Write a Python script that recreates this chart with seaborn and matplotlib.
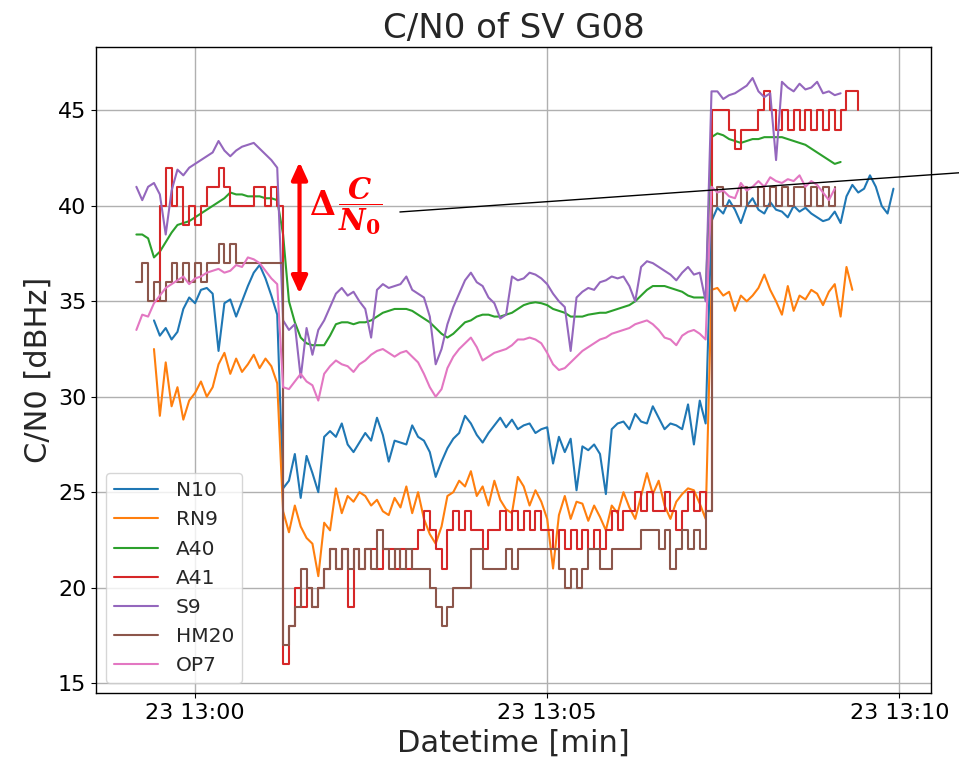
import pandas as pd
import matplotlib.pyplot as plt
import matplotlib.dates as mdates
from matplotlib.lines import Line2D
import seaborn as sns

# C/N0 samples (dBHz), every 5 s; each receiver has three pieces:
# before the drop (ends 13:01:10), during it (from 13:01:15), after the jump (from 13:07:20)
names = ["N10", "RN9", "A40", "A41", "S9", "HM20", "OP7"]
stepped = ["A41", "HM20"]  # these report whole dB values

n10_a = [34.0, 33.2, 33.6, 33.0, 33.4, 34.6, 35.2, 34.9, 35.6, 35.7, 35.4, 32.4, 34.9, 35.1,
         34.2, 35.0, 35.8, 36.5, 36.9, 36.2, 35.3, 34.3]
n10_b = [25.2, 25.6, 27.0, 24.7, 26.9, 26.0, 25.0, 27.9, 28.2, 27.9, 28.6, 27.5, 27.1, 27.6,
         28.1, 27.7, 28.9, 28.0, 26.6, 27.7, 27.6, 27.5, 28.5, 27.9, 27.7, 27.1, 25.8, 26.6,
         27.3, 27.8, 28.1, 29.0, 28.6, 28.0, 27.6, 28.1, 28.5, 28.9, 28.4, 28.8, 28.3, 28.5,
         28.6, 28.1, 28.3, 28.4, 26.5, 27.9, 27.1, 27.8, 25.1, 27.4, 27.2, 27.5, 27.0, 24.9,
         28.3, 28.6, 28.7, 28.3, 29.1, 28.7, 28.6, 29.5, 28.9, 28.3, 28.6, 28.5, 28.3, 29.6,
         27.5, 29.8, 28.6]
n10_c = [39.2, 39.9, 39.6, 40.3, 39.8, 39.1, 40.0, 40.4, 39.8, 39.6, 40.2, 39.8, 39.7, 39.4,
         40.0, 39.7, 39.9, 39.6, 39.4, 39.2, 39.3, 39.7, 39.1, 40.5, 41.1, 40.7, 40.9, 41.6,
         41.0, 40.0, 39.6, 40.9]

rn9_a = [32.5, 29.0, 31.8, 29.5, 30.5, 28.8, 29.8, 30.2, 30.8, 30.0, 30.5, 31.7, 32.3, 31.2,
         32.0, 31.3, 31.7, 32.2, 31.5, 32.0, 31.6, 30.7]
rn9_b = [24.0, 22.9, 24.3, 23.2, 22.6, 22.3, 20.6, 23.4, 23.0, 25.2, 23.9, 24.8, 24.5, 25.0,
         24.8, 24.3, 24.6, 24.0, 23.8, 24.7, 24.2, 25.3, 23.9, 25.0, 23.6, 22.8, 22.3, 23.2,
         24.8, 25.0, 25.6, 25.3, 26.1, 24.8, 25.3, 24.3, 25.6, 24.6, 24.1, 23.9, 25.8, 25.3,
         24.3, 25.1, 24.5, 23.6, 21.0, 23.8, 24.8, 23.6, 24.5, 24.4, 23.5, 24.3, 23.7, 23.0,
         24.3, 23.9, 25.0, 24.2, 23.6, 24.8, 26.0, 24.9, 25.6, 24.3, 23.6, 24.5, 24.9, 25.2,
         25.1, 24.4, 23.6]
rn9_c = [35.6, 35.7, 35.3, 35.5, 34.5, 35.3, 35.0, 35.3, 35.7, 36.4, 35.6, 35.0, 34.3, 35.8,
         34.5, 35.3, 35.1, 35.6, 35.4, 34.8, 35.5, 35.9, 34.2, 36.8, 35.6]

a40_a = [38.5, 38.5, 38.3, 37.3, 37.6, 38.1, 38.6, 39.0, 39.1, 39.2, 39.4, 39.6, 39.8, 40.0,
         40.2, 40.4, 40.7, 40.6, 40.6, 40.5, 40.5, 40.5, 40.4, 40.4, 40.3]
a40_b = [38.5, 35.0, 33.9, 33.1, 32.8, 32.7, 32.7, 32.7, 33.2, 33.8, 33.9, 33.9, 33.8, 33.9,
         33.9, 34.0, 34.2, 34.4, 34.5, 34.6, 34.6, 34.6, 34.5, 34.3, 34.1, 33.9, 33.6, 33.3,
         33.1, 33.3, 33.6, 33.9, 34.0, 34.2, 34.3, 34.3, 34.2, 34.2, 34.3, 34.4, 34.6, 34.8,
         34.9, 34.95, 34.9, 34.8, 34.6, 34.5, 34.4, 34.2, 34.2, 34.2, 34.3, 34.35, 34.4, 34.4,
         34.5, 34.6, 34.7, 34.8, 35.0, 35.3, 35.6, 35.8, 35.8, 35.8, 35.7, 35.6, 35.5, 35.3,
         35.2, 35.2, 35.2]
a40_c = [43.6, 43.8, 43.7, 43.5, 43.4, 43.3, 43.4, 43.5, 43.5, 43.6, 43.6, 43.6, 43.6, 43.5,
         43.4, 43.3, 43.2, 43.0, 42.8, 42.6, 42.4, 42.2, 42.3]

a41_a = [35, 40, 42, 40, 41, 39, 40, 39, 40, 41, 41, 42, 41, 40, 40, 40, 40, 41, 41, 40, 41, 40]
a41_b = [16, 18, 20, 19, 20, 19, 20, 21, 22, 21, 22, 19, 22, 21, 22, 22, 21, 22, 22, 21, 22,
         21, 22, 23, 24, 23, 22, 21, 23, 24, 23, 24, 23, 23, 22, 23, 23, 24, 23, 24, 23, 24,
         23, 24, 23, 23, 22, 23, 22, 23, 22, 23, 22, 23, 22, 23, 24, 23, 24, 24, 25, 24, 25,
         24, 24, 25, 24, 23, 24, 25, 24, 25, 24]
a41_c = [45, 45, 45, 44, 43, 44, 44, 44, 45, 46, 45, 44, 45, 44, 45, 44, 45, 44, 45, 44, 45,
         44, 45, 46, 46, 45]

s9_a = [41.0, 40.3, 41.0, 41.2, 40.6, 38.5, 40.8, 41.9, 41.6, 42.0, 42.2, 42.4, 42.6, 42.8,
        43.4, 42.9, 42.6, 42.9, 43.1, 43.2, 43.3, 43.0, 42.7, 42.4, 42.0]
s9_b = [34.0, 33.5, 33.8, 31.0, 33.6, 32.2, 33.5, 34.0, 34.7, 35.4, 35.7, 35.3, 35.5, 35.0,
        34.6, 33.1, 35.6, 35.9, 35.7, 35.8, 35.9, 36.3, 35.6, 35.4, 35.2, 34.2, 31.7, 32.5,
        33.8, 34.7, 35.4, 36.1, 36.5, 36.0, 35.8, 35.2, 34.9, 34.1, 34.3, 36.3, 36.1, 36.2,
        36.5, 36.4, 36.2, 35.9, 35.4, 35.0, 34.7, 32.4, 35.2, 35.5, 35.7, 35.6, 36.0, 36.1,
        36.3, 36.2, 36.3, 35.8, 35.0, 36.8, 37.1, 37.0, 36.8, 36.6, 36.4, 36.1, 36.5, 36.8,
        36.4, 36.5, 35.0]
s9_c = [46.0, 46.0, 45.6, 45.8, 45.9, 46.1, 46.3, 46.7, 46.0, 45.7, 45.9, 42.4, 46.5, 46.2,
        46.0, 46.4, 46.1, 46.2, 46.5, 45.9, 46.0, 45.8, 45.9]

hm20_a = [36, 37, 35, 36, 35, 36, 37, 36, 37, 36, 37, 36, 37, 37, 38, 37, 38, 37, 37, 37, 37,
          37, 37, 37, 37]
hm20_b = [17, 18, 19, 21, 20, 19, 20, 21, 22, 21, 22, 21, 22, 21, 22, 21, 23, 22, 21, 22, 21,
          22, 21, 21, 21, 20, 19, 18, 19, 20, 20, 20, 22, 22, 21, 21, 21, 21, 22, 21, 22, 22,
          22, 22, 22, 22, 22, 21, 20, 21, 20, 21, 22, 22, 21, 21, 22, 22, 22, 22, 22, 23, 23,
          23, 22, 23, 21, 22, 23, 22, 23, 22, 24]
hm20_c = [40, 41, 40, 40, 40, 41, 40, 40, 41, 40, 41, 40, 41, 40, 41, 41, 40, 41, 40, 41, 40, 41]

op7_a = [33.5, 34.3, 34.2, 34.9, 35.3, 35.7, 35.9, 36.1, 36.3, 35.9, 36.2, 36.3, 36.5, 36.6,
         36.7, 36.5, 36.6, 36.9, 36.8, 37.3, 37.2, 37.0, 36.6, 36.2, 35.9]
op7_b = [30.5, 30.4, 30.8, 31.2, 30.8, 30.6, 29.8, 31.2, 31.6, 31.9, 31.7, 31.6, 31.3, 31.7,
         31.9, 32.2, 32.4, 32.5, 32.3, 32.1, 32.3, 32.4, 32.1, 31.8, 31.2, 30.5, 30.0, 30.4,
         31.5, 32.1, 32.5, 32.8, 33.1, 32.6, 31.9, 32.1, 32.3, 32.4, 32.5, 32.7, 33.0, 33.0,
         33.1, 33.0, 32.8, 32.3, 31.7, 31.4, 31.5, 31.8, 32.1, 32.4, 32.6, 32.8, 33.0, 33.1,
         33.3, 33.4, 33.5, 33.6, 33.8, 33.9, 34.0, 33.8, 33.5, 33.1, 33.0, 32.7, 33.2, 33.4,
         33.5, 33.3, 33.0]
op7_c = [41.0, 40.7, 40.8, 40.5, 40.4, 41.2, 40.8, 41.0, 41.3, 41.0, 41.5, 41.3, 41.2, 41.4,
         41.3, 41.6, 41.0, 41.3, 41.1, 40.7, 40.3, 40.9]

pieces = {
    "N10": (n10_a, n10_b, n10_c),
    "RN9": (rn9_a, rn9_b, rn9_c),
    "A40": (a40_a, a40_b, a40_c),
    "A41": (a41_a, a41_b, a41_c),
    "S9": (s9_a, s9_b, s9_c),
    "HM20": (hm20_a, hm20_b, hm20_c),
    "OP7": (op7_a, op7_b, op7_c),
}

day = "2023-03-23 "
rows = []
for name in names:
    a, b, c = pieces[name]
    t_a = pd.date_range(end=day + "13:01:10", periods=len(a), freq="5s")
    t_b = pd.date_range(start=day + "13:01:15", periods=len(b), freq="5s")
    t_c = pd.date_range(start=day + "13:07:20", periods=len(c), freq="5s")
    for tt, vv in zip(list(t_a) + list(t_b) + list(t_c), a + b + c):
        rows.append((tt, vv, name))
df = pd.DataFrame(rows, columns=["time", "cn0", "receiver"])

sns.set_theme(style="ticks", rc={
    "axes.grid": True, "grid.color": "#b0b0b0", "grid.linewidth": 1.0,
    "axes.edgecolor": "black", "axes.linewidth": 1.0,
    "xtick.major.size": 3.5, "ytick.major.size": 3.5,
    "xtick.major.width": 0.8, "ytick.major.width": 0.8,
})
plt.rcParams["font.family"] = ["DejaVu Sans"]

colors = dict(zip(names, sns.color_palette("tab10", len(names))))

fig = plt.figure(figsize=(9.59, 7.68), dpi=100)
ax = fig.add_axes([0.1001, 0.0977, 0.8707, 0.8405])

for name in names:
    sub = df[df["receiver"] == name]
    sns.lineplot(data=sub, x="time", y="cn0", color=colors[name], estimator=None,
                 linewidth=1.5, ax=ax, legend=False,
                 drawstyle="steps-post" if name in stepped else "default")

ax.set_xlim(pd.Timestamp(day + "12:58:35.6"), pd.Timestamp(day + "13:10:27"))
ax.set_ylim(14.48, 48.3)
ax.set_yticks([15, 20, 25, 30, 35, 40, 45])
ax.xaxis.set_major_locator(mdates.MinuteLocator(byminute=[0, 5, 10]))
ax.xaxis.set_major_formatter(mdates.DateFormatter("%d %H:%M"))
ax.tick_params(labelsize=16, colors="black")

ax.set_title("C/N0 of SV G08", fontsize=24.5, pad=7)
ax.set_xlabel("Datetime [min]", fontsize=22)
ax.set_ylabel("C/N0 [dBHz]", fontsize=22)

handles = [Line2D([], [], color=colors[n], lw=1.5) for n in names]
ax.legend(handles, names, loc="lower left", fontsize=14.5, labelspacing=0.5,
          handlelength=2.2, handletextpad=0.85, frameon=True, framealpha=0.8,
          edgecolor="#cccccc")

# delta C/N0 marker
t_arrow = pd.Timestamp(day + "13:01:29")
ax.annotate("", xy=(t_arrow, 42.3), xytext=(t_arrow, 35.4),
            arrowprops=dict(arrowstyle="<|-|>,head_length=0.7,head_width=0.32",
                            color="red", lw=3, mutation_scale=15, shrinkA=0, shrinkB=0))
ax.text(pd.Timestamp(day + "13:01:48"), 40.0, "Δ", color="red", fontsize=24,
        fontweight="bold", family="DejaVu Serif", ha="center", va="center")
ax.text(pd.Timestamp(day + "13:02:21"), 40.0,
        r"$\dfrac{\mathbfit{C}}{\mathbfit{N}_{\mathbf{0}}}$",
        color="red", fontsize=21, ha="center", va="center", math_fontfamily="dejavuserif")

fig.add_artist(Line2D([0.417, 1.0], [0.724, 0.775], transform=fig.transFigure,
                      color="black", lw=1.0))

fig.savefig("out.png", dpi=100)
